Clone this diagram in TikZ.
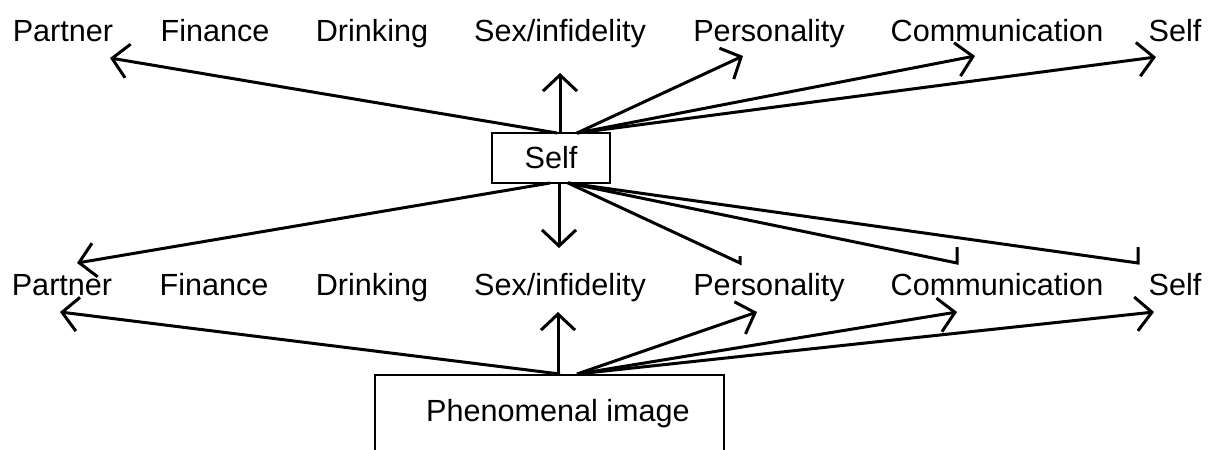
\documentclass[tikz,border=0pt]{standalone}
\usepackage{fontspec}
\setmainfont{Liberation Sans}
\usetikzlibrary{arrows.meta}
\tikzset{x=0.5pt, y=-0.5pt, % One unit is one pixel of the scan, y grows downwards
        every node/.style={ % Sets the properties for each text
            font=\fontsize{15.3}{18}\selectfont,
            inner sep=0pt},
        issue/.style={anchor=base}, % Labels sit on their baseline
        box/.style={ % Boxes for self and phenomenal image
            draw,
            line width=1.1pt},
        every edge/.style={ % Sets the properties for each arrow
            draw,
            -{Straight Barb[length=8pt,width=17pt]}, % Open V heads
            line width=1.5pt},
        halftick/.style={ % Lines that end with a short upward stroke
            -,
            to path={-- (\tikztotarget) -- ++(0,-#1)}}
        }

\begin{document}
\begin{tikzpicture}
    \path[use as bounding box, clip] (0,0) rectangle (1208,449);

    % upper row
    \node[issue] (partner1)  at (63,42)   {Partner};
    \node[issue] (finance1)  at (215,42)  {Finance};
    \node[issue] (drinking1) at (372,42)  {Drinking};
    \node[issue] (sex1)      at (560,42)  {Sex/infidelity};
    \node[issue] (pers1)     at (769,42)  {Personality};
    \node[issue] (comm1)     at (997,42)  {Communication};
    \node[issue] (self1)     at (1175,42) {Self};

    \node[box, minimum width=59pt, minimum height=25pt] (selfbox) at (551,158) {Self};

    % lower row
    \node[issue] (partner2)  at (62,295)   {Partner};
    \node[issue] (finance2)  at (214,295)  {Finance};
    \node[issue] (drinking2) at (372,295)  {Drinking};
    \node[issue] (sex2)      at (560,295)  {Sex/infidelity};
    \node[issue] (pers2)     at (769,295)  {Personality};
    \node[issue] (comm2)     at (997,295)  {Communication};
    \node[issue] (self2)     at (1175,295) {Self};

    \node[box, anchor=north, minimum width=174.5pt, minimum height=48pt,
          text height=10pt, text depth=12pt] (phenom) at (549.5,374)
          {\hspace*{8.5pt}Phenomenal image};

    % where the arrows leave the boxes
    \coordinate (selftop-l) at (557,133);
    \coordinate (selftop)   at (560,133);
    \coordinate (selftop-r) at (577,133);
    \coordinate (selfbot-l) at (550,183);
    \coordinate (selfbot)   at (559,183);
    \coordinate (selfbot-r) at (568,183);
    \coordinate (phtop-l)   at (560,374);
    \coordinate (phtop)     at (558,374);
    \coordinate (phtop-r)   at (577,374);

    % where the arrows end
    \coordinate (up-partner) at (110,58);
    \coordinate (up-sex)     at (560,73);
    \coordinate (up-pers)    at (743,56);
    \coordinate (up-comm)    at (975,56);
    \coordinate (up-self)    at (1156,57);
    \coordinate (dn-partner) at (77,263);
    \coordinate (dn-sex)     at (559,248);
    \coordinate (dn-pers)    at (740,263);
    \coordinate (dn-comm)    at (957,263);
    \coordinate (dn-self)    at (1138,263);
    \coordinate (ph-partner) at (60,312);
    \coordinate (ph-sex)     at (558,312);
    \coordinate (ph-pers)    at (757,312);
    \coordinate (ph-comm)    at (957,312);
    \coordinate (ph-self)    at (1154,312);

    \draw
        (selftop-l) edge (up-partner)
        (selftop)   edge (up-sex)
        (selftop-r) edge (up-pers)
                    edge (up-comm)
                    edge (up-self)
        (selfbot-l) edge (dn-partner)
        (selfbot)   edge (dn-sex)
        (selfbot-r) edge [halftick=7]  (dn-pers)
                    edge [halftick=16] (dn-comm)
                    edge [halftick=16] (dn-self)
        (phtop-l)   edge (ph-partner)
        (phtop)     edge (ph-sex)
        (phtop-r)   edge (ph-pers)
                    edge (ph-comm)
                    edge (ph-self);
\end{tikzpicture}
\end{document}
